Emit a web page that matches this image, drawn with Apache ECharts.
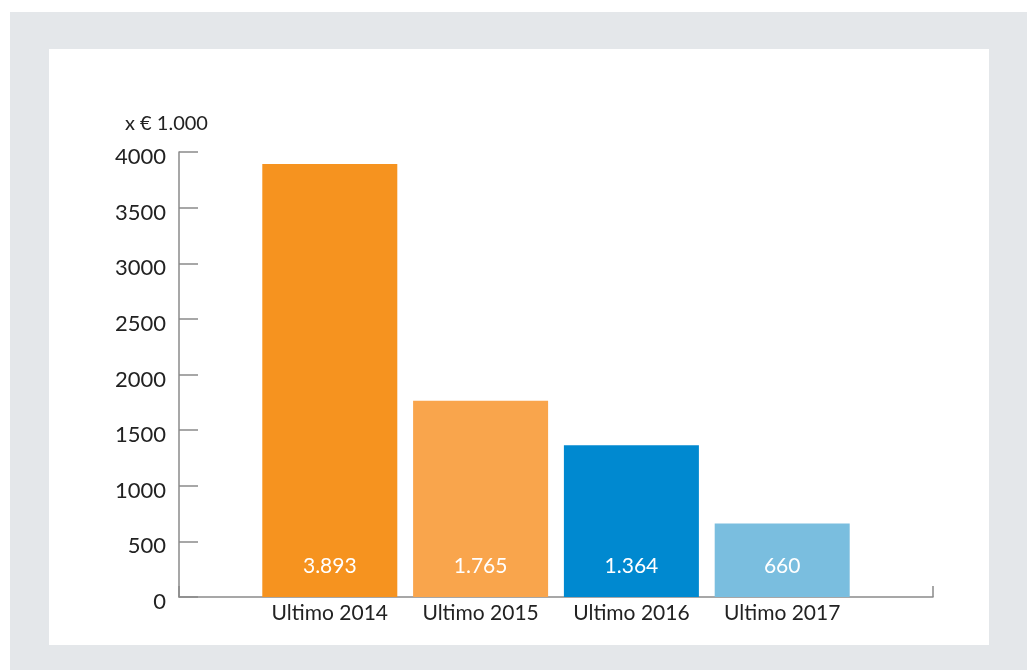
<!DOCTYPE html>
<html><head><meta charset="utf-8">
<script src="https://cdn.jsdelivr.net/npm/echarts@6/dist/echarts.min.js"></script>
<style>html,body{margin:0;padding:0;background:#fff;}#c{width:1027px;height:670px;}</style>
</head><body><div id="c"></div>
<script>
const categories = ['', 'Ultimo 2014', 'Ultimo 2015', 'Ultimo 2016', 'Ultimo 2017', ''];
const values = [null, 3893, 1765, 1364, 660, null];
const barColors = ['#f6931f', '#f9a54c', '#0089d0', '#7abedf'];
const yTicks = [0, 500, 1000, 1500, 2000, 2500, 3000, 3500, 4000];
const unitLabel = 'x € 1.000';

const FONT = 'Lato, "Open Sans", sans-serif';
const chart = echarts.init(document.getElementById('c'));
const data = values.map((v, i) => v == null ? null : ({
  value: v, itemStyle: { color: barColors[i - 1] }
}));
chart.setOption({
  animation: false,
  graphic: [
    { type: 'rect', z: -10, shape: { x: 10, y: 12, width: 1017, height: 658 }, style: { fill: '#e4e7ea' } },
    { type: 'rect', z: -9, shape: { x: 49, y: 49, width: 940, height: 596 }, style: { fill: '#ffffff' } }
  ],
  grid: { left: 179, right: 94, top: 152, bottom: 73 },
  xAxis: {
    type: 'category', data: categories, boundaryGap: false,
    axisLine: { lineStyle: { color: '#8a8a8a', width: 1.5 } },
    axisTick: { show: true, inside: true, length: 11, interval: (i) => i === 0 || i === categories.length - 1,
      lineStyle: { color: '#8a8a8a', width: 1.5 } },
    axisLabel: { color: '#222', fontSize: 21, fontFamily: FONT, margin: 6, interval: 0 },
    splitLine: { show: false }
  },
  yAxis: {
    type: 'value', min: 0, max: 4000, interval: 500,
    name: unitLabel, nameLocation: 'end', nameGap: 18,
    nameTextStyle: { color: '#222', fontSize: 20, fontFamily: FONT, align: 'center', padding: [0, 0, 0, -25] },
    axisLine: { show: true, lineStyle: { color: '#8a8a8a', width: 1.5 } },
    axisTick: { show: true, inside: true, length: 19, lineStyle: { color: '#8a8a8a', width: 1.5 } },
    axisLabel: { color: '#222', fontSize: 22, fontFamily: FONT, margin: 13,
      formatter: (v) => yTicks.includes(v) ? '{v|' + v + '}' : '',
      rich: { v: { color: '#222', fontSize: 22, fontFamily: FONT, padding: [10, 0, 0, 0] } } },
    splitLine: { show: false }
  },
  series: [{
    type: 'bar', data: data, barWidth: 135,
    label: {
      show: true, position: 'insideBottom', distance: 20, color: '#fff', fontSize: 21, fontFamily: FONT,
      formatter: (p) => p.value == null ? '' : p.value.toLocaleString('de-DE')
    }
  }]
});
</script></body></html>
